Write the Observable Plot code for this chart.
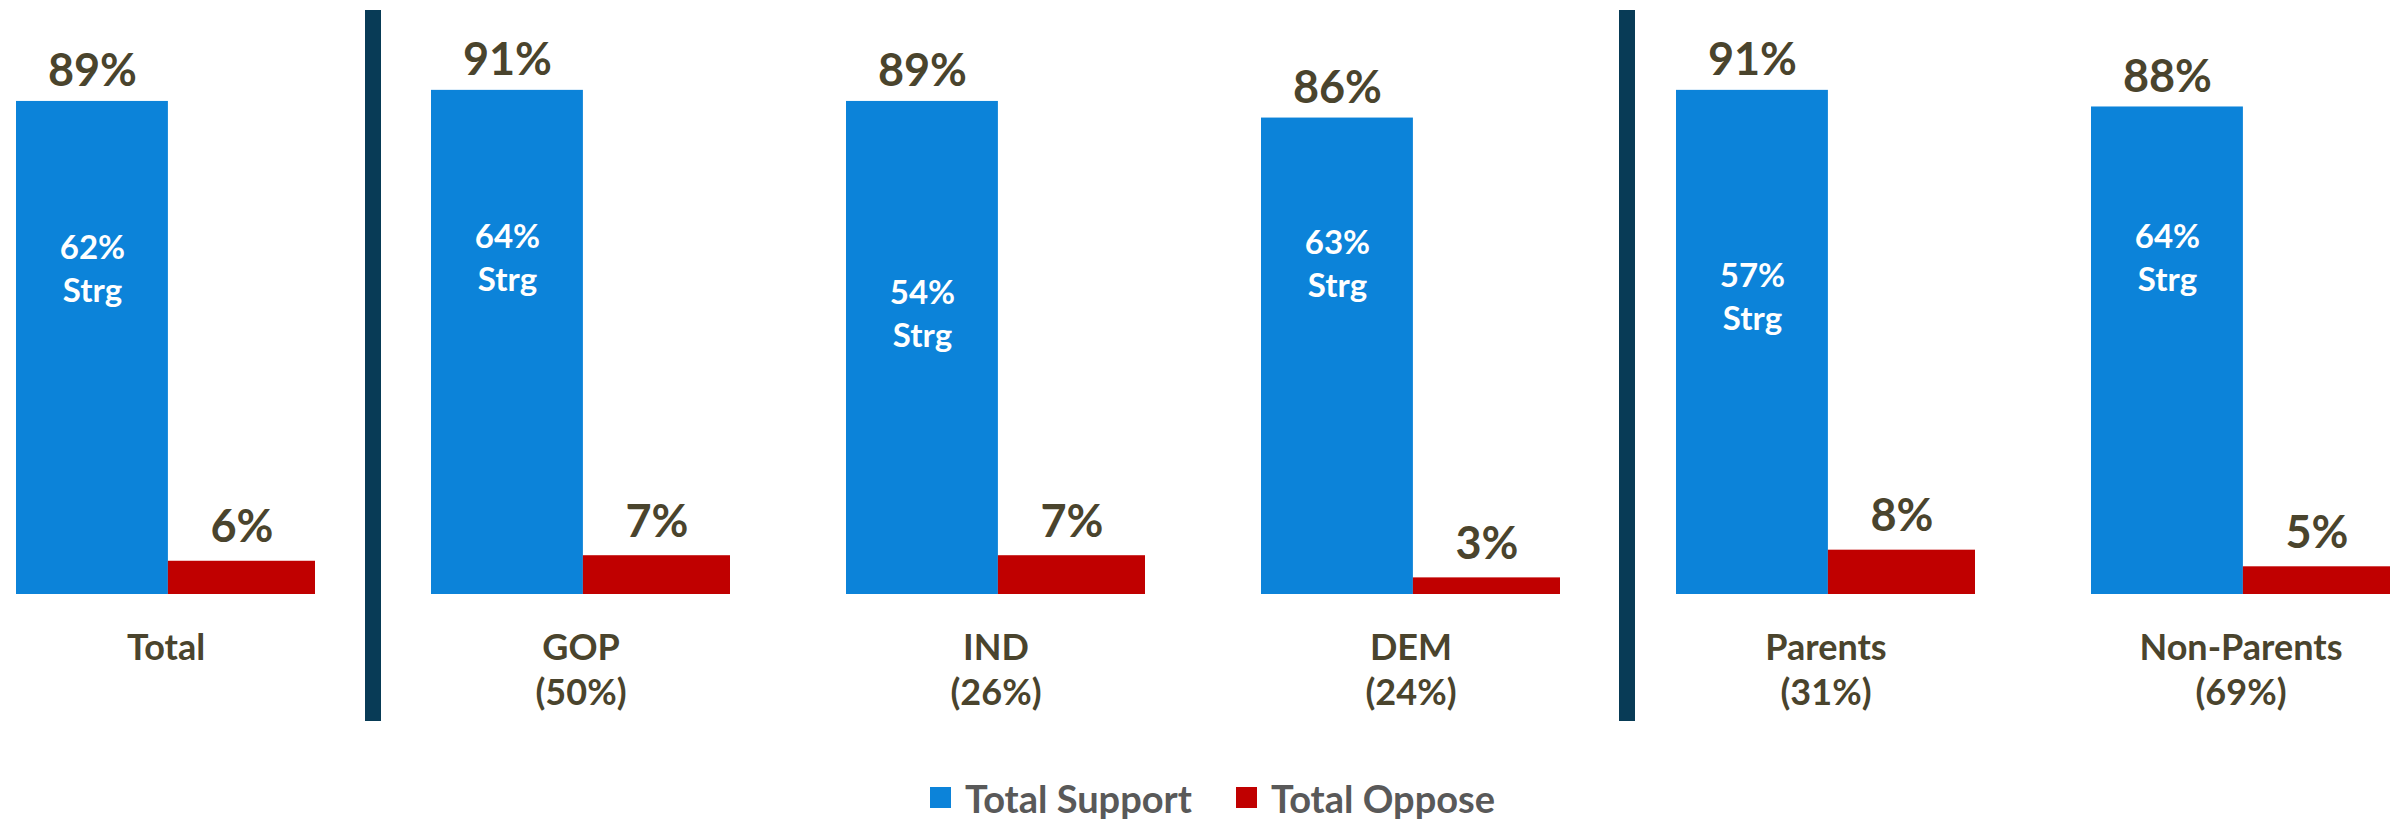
<!DOCTYPE html>
<html><head><meta charset="utf-8">
<script src="https://cdn.jsdelivr.net/npm/d3@7"></script>
<script src="https://cdn.jsdelivr.net/npm/@observablehq/plot@0.6"></script>
<style>
html,body{margin:0;padding:0;background:#fff;}
#legend{display:flex;justify-content:center;align-items:center;height:45px;font-family:Lato,sans-serif;font-weight:700;font-size:38px;color:#595959;padding-left:20px;}
.item{display:flex;align-items:center;margin:0 22px;}
.sw{width:21px;height:21px;margin-right:14px;}
</style></head><body><div id="chart"></div><div id="legend"></div>
<script>
const categories = ["Total","GOP","IND","DEM","Parents","Non-Parents"];
const subLabels = ["","(50%)","(26%)","(24%)","(31%)","(69%)"];
const support = [89,91,89,86,91,88];
const oppose = [6,7,7,3,8,5];
const strong = [62,64,54,63,57,64];
const seriesNames = ["Total Support","Total Oppose"];
const seriesColors = ["#0c83d9","#c00000"];
const dividers = ["GOP","Parents"];

const rows = categories.map((c,i)=>({category:c, sub:subLabels[i], support:support[i], oppose:oppose[i], strong:strong[i]}));

const W = 2405, H = 775, baseY = 594, topY = 40;
const pi = 0.2807, po = 0.0333;
const step = W / (categories.length - pi + 2*po);
const bw = step*(1-pi);
const blueW = bw*0.508;
const redW = bw - blueW;
const blueDx = blueW/2 - bw/2;
const redDx = blueW + redW/2 - bw/2;
const textColor = "#4a442d";

const chart = Plot.plot({
  width: W, height: H,
  marginTop: topY, marginBottom: H - baseY, marginLeft: 0, marginRight: 0,
  style: {fontFamily: "Lato, sans-serif", fontWeight: 700, background: "#fff"},
  x: {domain: categories, paddingInner: pi, paddingOuter: po, align: 0.5, axis: null},
  y: {domain: [0,100], axis: null},
  marks: [
    Plot.barY(rows, {x:"category", y:"support", fill: seriesColors[0], insetRight: redW}),
    Plot.barY(rows, {x:"category", y:"oppose", fill: seriesColors[1], insetLeft: blueW}),
    Plot.text(rows, {x:"category", y:"support", text: d=>d.support+"%", dx: blueDx, dy: -15, lineAnchor:"bottom", fontSize: 45, fontWeight: 700, fill: textColor}),
    Plot.text(rows, {x:"category", y:"oppose", text: d=>d.oppose+"%", dx: redDx, dy: -19, lineAnchor:"bottom", fontSize: 45, fontWeight: 700, fill: textColor}),
    Plot.text(rows, {x:"category", y:"strong", text: d=>d.strong+"%\nStrg", dx: blueDx, dy: 16, lineAnchor:"middle", fontSize: 33, fontWeight: 700, fill: "#fff", lineHeight: 1.3}),
    Plot.axisX({anchor:"bottom", label: null, tickSize: 0, tickPadding: 34, fontSize: 36, fontWeight: 700, color: textColor, lineHeight: 1.25,
      tickFormat: c => { const s = subLabels[categories.indexOf(c)]; return s ? c + "\n" + s : c; }}),
    Plot.ruleX([dividers[0]], {x: d=>d, dx: -208, stroke:"#083b56", strokeWidth: 16, insetTop: -30, insetBottom: -127}),
    Plot.ruleX([dividers[1]], {x: d=>d, dx: -199, stroke:"#083b56", strokeWidth: 16, insetTop: -30, insetBottom: -127})
  ]
});
document.getElementById("chart").appendChild(chart);

const legend = document.getElementById("legend");
seriesNames.forEach((n,i)=>{
  const it = document.createElement("div"); it.className="item";
  const sw = document.createElement("div"); sw.className="sw"; sw.style.background = seriesColors[i];
  const t = document.createElement("span"); t.textContent = n;
  it.appendChild(sw); it.appendChild(t); legend.appendChild(it);
});
</script></body></html>
